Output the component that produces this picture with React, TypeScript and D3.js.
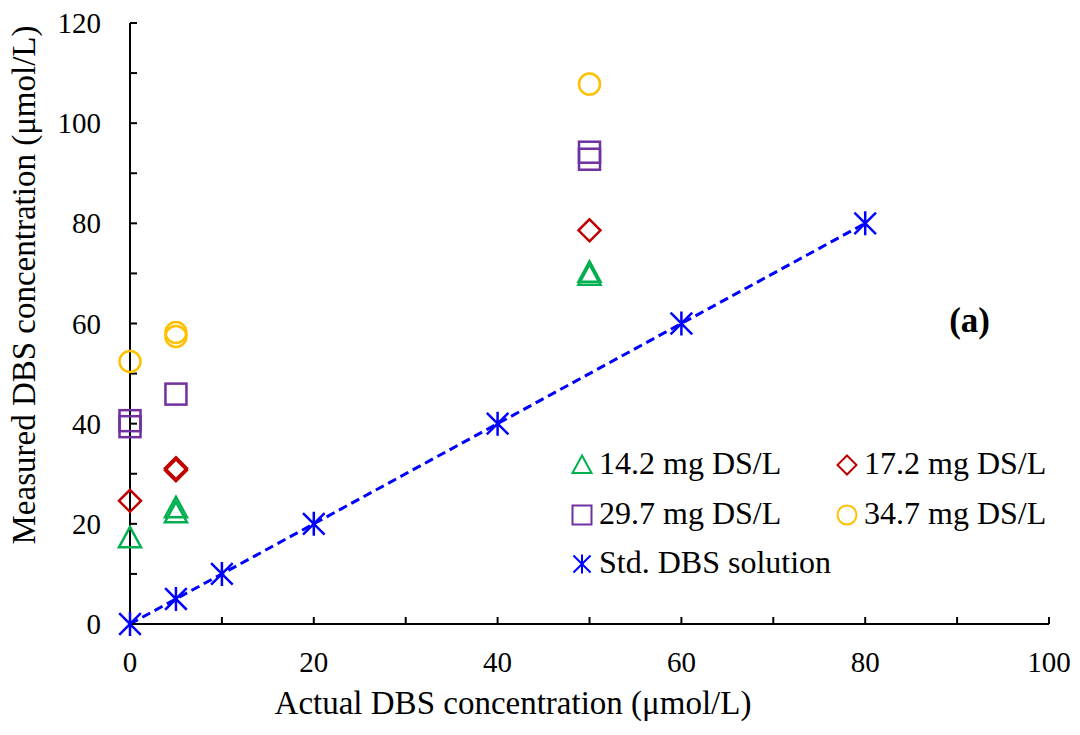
import React from 'react';
import * as d3 from 'd3';

const ds142: [number, number][] = [[0, 17.2], [5, 22.2], [5, 23.2], [50, 69.6], [50, 70.2]];
const ds172: [number, number][] = [[0, 24.6], [5, 30.7], [5, 31.1], [50, 78.6]];
const ds297: [number, number][] = [[0, 39.4], [0, 40.6], [5, 45.9], [50, 92.8], [50, 94.2]];
const ds347: [number, number][] = [[0, 52.4], [5, 57.4], [5, 58.2], [50, 107.8]];
const stdDBS: [number, number][] = [[0, 0], [5, 5], [10, 10], [20, 20], [40, 40], [60, 60], [80, 80]];

const xTicks = [0, 20, 40, 60, 80, 100];
const yTicks = [0, 20, 40, 60, 80, 100, 120];
const minorX = d3.range(0, 101, 10);
const minorY = d3.range(0, 121, 10);

const FONT = '"Liberation Serif", "Times New Roman", serif';

const W = 1080, H = 735;
const margin = { left: 130, right: 31, top: 23, bottom: 111 };

const x = d3.scaleLinear().domain([0, 100]).range([margin.left, W - margin.right]);
const y = d3.scaleLinear().domain([0, 120]).range([H - margin.bottom, margin.top]);

const GREEN = '#00b050';
const RED = '#c00000';
const PURPLE = '#7030a0';
const ORANGE = '#ffc000';
const BLUE = '#0000ff';

type Shape = 'tri' | 'dia' | 'sq' | 'circ' | 'star';

function Marker(props: { shape: Shape; cx: number; cy: number; s: number; color: string; sw: number }) {
  const { shape, cx, cy, s, color, sw } = props;
  const h = s / 2;
  if (shape === 'circ') return <circle cx={cx} cy={cy} r={h} fill="none" stroke={color} strokeWidth={sw} />;
  if (shape === 'sq') return <rect x={cx - h} y={cy - h} width={s} height={s} fill="none" stroke={color} strokeWidth={sw} />;
  if (shape === 'dia')
    return <path d={`M${cx},${cy - h}L${cx + h},${cy}L${cx},${cy + h}L${cx - h},${cy}Z`} fill="none" stroke={color} strokeWidth={sw} />;
  if (shape === 'tri')
    return <path d={`M${cx},${cy - h}L${cx + h},${cy + h * 0.85}L${cx - h},${cy + h * 0.85}Z`} fill="none" stroke={color} strokeWidth={sw} />;
  // star: vertical line + X
  const d = h * 0.9;
  return (
    <path
      d={`M${cx},${cy - h}L${cx},${cy + h}M${cx - d},${cy - d}L${cx + d},${cy + d}M${cx - d},${cy + d}L${cx + d},${cy - d}`}
      stroke={color}
      strokeWidth={sw}
      fill="none"
    />
  );
}

const series: { name: string; data: [number, number][]; shape: Shape; color: string; size: number }[] = [
  { name: '14.2 mg DS/L', data: ds142, shape: 'tri', color: GREEN, size: 22 },
  { name: '17.2 mg DS/L', data: ds172, shape: 'dia', color: RED, size: 22 },
  { name: '29.7 mg DS/L', data: ds297, shape: 'sq', color: PURPLE, size: 21 },
  { name: '34.7 mg DS/L', data: ds347, shape: 'circ', color: ORANGE, size: 21 },
  { name: 'Std. DBS solution', data: stdDBS, shape: 'star', color: BLUE, size: 24 },
];

export default function App() {
  const line = d3.line<[number, number]>().x((d) => x(d[0])).y((d) => y(d[1]));
  const fit = [stdDBS[0], stdDBS[stdDBS.length - 1]];
  const x0 = x(0), y0 = y(0);

  const legendPos = [
    { lx: 582, ly: 465 },
    { lx: 847, ly: 465 },
    { lx: 582, ly: 515 },
    { lx: 847, ly: 515 },
    { lx: 582, ly: 564 },
  ];

  return (
    <svg width={W} height={H} style={{ position: 'absolute', left: 0, top: 0, fontFamily: FONT }}>
      <rect width={W} height={H} fill="#fff" />

      {/* trend line */}
      <path d={line(fit) || ''} fill="none" stroke={BLUE} strokeWidth={3} strokeDasharray="9,5" />

      {/* axes */}
      <line x1={x0} y1={y(120)} x2={x0} y2={y0} stroke="#000" strokeWidth={2} />
      <line x1={x0} y1={y0} x2={x(100)} y2={y0} stroke="#000" strokeWidth={2} />
      {minorY.map((t) => (
        <line key={'my' + t} x1={x0} x2={x0 + 7} y1={y(t)} y2={y(t)} stroke="#000" strokeWidth={2} />
      ))}
      {minorX.map((t) => (
        <line key={'mx' + t} x1={x(t)} x2={x(t)} y1={y0} y2={y0 - 7} stroke="#000" strokeWidth={2} />
      ))}
      {yTicks.map((t) => (
        <text key={'yt' + t} x={x0 - 29} y={y(t) + 10} fontSize={29} textAnchor="end" fill="#000">
          {t}
        </text>
      ))}
      {xTicks.map((t) => (
        <text key={'xt' + t} x={x(t)} y={y0 + 48} fontSize={29} textAnchor="middle" fill="#000">
          {t}
        </text>
      ))}

      <text x={513} y={714} fontSize={33} textAnchor="middle" fill="#000">
        Actual DBS concentration (μmol/L)
      </text>
      <text transform={`translate(35, 285) rotate(-90)`} fontSize={33} textAnchor="middle" fill="#000">
        Measured DBS concentration (μmol/L)
      </text>

      {/* points */}
      {series.map((s) =>
        s.data.map((d, i) => (
          <Marker key={s.name + i} shape={s.shape} cx={x(d[0])} cy={y(d[1])} s={s.size} color={s.color} sw={2.5} />
        ))
      )}

      <text x={990} y={332} fontSize={35} fontWeight="bold" textAnchor="end" fill="#000">
        (a)
      </text>

      {/* legend */}
      {series.map((s, i) => (
        <g key={'lg' + s.name}>
          <Marker shape={s.shape} cx={legendPos[i].lx} cy={legendPos[i].ly} s={19} color={s.color} sw={2} />
          <text x={legendPos[i].lx + 17} y={legendPos[i].ly + 9} fontSize={32} fill="#000">
            {s.name}
          </text>
        </g>
      ))}
    </svg>
  );
}
